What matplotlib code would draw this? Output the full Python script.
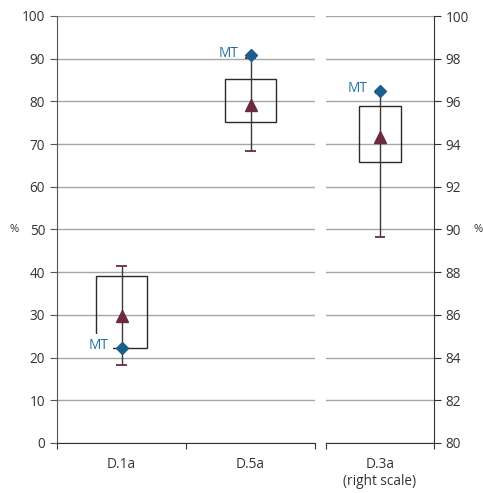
import matplotlib
matplotlib.use("Agg")
import matplotlib.pyplot as plt

plt.rcParams['font.family'] = ['Open Sans', 'DejaVu Sans']

# ---- data (left scale) ----
left_cats = ["D.1a", "D.5a"]
left_box_low = [22.3, 75.1]
left_box_high = [39.1, 85.3]
left_whisk_low = [18.3, 68.3]
left_whisk_high = [41.5, 90.2]
left_mean = [29.8, 79.2]
left_mt = [22.3, 90.8]

# ---- data (right scale) ----
right_cats = ["D.3a\n(right scale)"]
right_box_low = [93.15]
right_box_high = [95.8]
right_whisk_low = [89.65]
right_whisk_high = [96.4]
right_mean = [94.35]
right_mt = [96.5]

left_ticks = list(range(0, 101, 10))
right_ticks = list(range(80, 101, 2))

MAROON = "#6b2a44"
BLUE = "#1b5f8c"
GRID = "#a6a6a6"
TXT = "#333333"
FS = 9.8

fig = plt.figure(figsize=(4.83, 4.93), dpi=100)
axL = fig.add_axes([57/483, 1-443/493, 258/483, 427/493])
axR = fig.add_axes([326/483, 1-443/493, 108/483, 427/493])


def draw(ax, cats, blo, bhi, wlo, whi, mean, mt, width, cap_half, label_bbox_idx):
    xs = [i + 0.5 for i in range(len(cats))]
    for i, x in enumerate(xs):
        ax.vlines(x, wlo[i], whi[i], color="#3a3a3a", lw=1.0, zorder=3)
        ax.hlines([wlo[i], whi[i]], x - cap_half, x + cap_half, color=MAROON, lw=1.3, zorder=3)
    ax.bar(xs, [h - l for h, l in zip(bhi, blo)], bottom=blo, width=width,
           fill=False, edgecolor="#2a2a2a", lw=1.0, zorder=2)
    ax.plot(xs, mean, linestyle="none", marker="^", ms=8, color=MAROON, zorder=4)
    ax.plot(xs, mt, linestyle="none", marker="D", ms=6, color=BLUE, zorder=5)
    for i, x in enumerate(xs):
        kw = {}
        if i in label_bbox_idx:
            kw["bbox"] = dict(facecolor="white", edgecolor="none", pad=3.0)
        ax.annotate("MT", (x, mt[i]), xytext=(-9, 1.5), textcoords="offset points",
                    ha="right", va="center", color="#2070a0", fontsize=FS, zorder=6, **kw)
    ax.set_xlim(0, len(cats))
    ax.set_xticks(range(len(cats) + 1))
    ax.set_xticklabels([])
    ax.set_xticks(xs, cats, minor=True)
    ax.tick_params(axis="x", which="major", length=4, direction="out", color="#333333")
    ax.tick_params(axis="x", which="minor", length=0, pad=10, labelsize=FS, labelcolor=TXT)
    ax.yaxis.grid(True, color=GRID, lw=1.0)
    ax.set_axisbelow(True)
    ax.spines["top"].set_visible(False)
    ax.spines["bottom"].set_color("#333333")


draw(axL, left_cats, left_box_low, left_box_high, left_whisk_low, left_whisk_high,
     left_mean, left_mt, 0.39, 0.039, {0})
axL.set_ylim(0, 100)
axL.set_yticks(left_ticks)
axL.spines["right"].set_visible(False)
axL.spines["left"].set_color("#555555")
axL.tick_params(axis="y", length=5, direction="out", labelsize=FS, labelcolor=TXT, color="#555555")

draw(axR, right_cats, right_box_low, right_box_high, right_whisk_low, right_whisk_high,
     right_mean, right_mt, 0.39, 0.046, set())
axR.set_ylim(80, 100)
axR.set_yticks(right_ticks)
axR.spines["left"].set_visible(False)
axR.spines["right"].set_color("#333333")
axR.yaxis.tick_right()
axR.tick_params(axis="y", length=5, direction="out", labelsize=FS, labelcolor=TXT, color="#333333")
axR.tick_params(axis="y", which="both", left=False)

fig.text(14/483, 1-230/493, "%", ha="center", va="center", fontsize=8, color=TXT)
fig.text(478/483, 1-230/493, "%", ha="center", va="center", fontsize=8, color=TXT)

fig.savefig("out.png", dpi=100, facecolor="white")
